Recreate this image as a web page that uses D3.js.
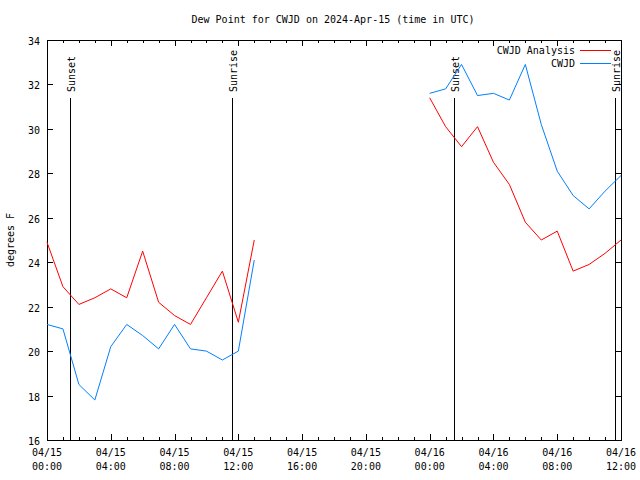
<!DOCTYPE html>
<html><head><meta charset="utf-8">
<script src="https://cdn.jsdelivr.net/npm/d3@7"></script>
<style>body{margin:0;background:#fff}svg{display:block}text{font-family:"DejaVu Sans Mono",monospace;font-size:10px;fill:#000}</style>
</head><body>
<script>
const title = "Dew Point for CWJD on 2024-Apr-15 (time in UTC)";
const yLabel = "degrees F";
const seriesNames = ["CWJD Analysis", "CWJD"];
const seriesColors = ["#ff0000", "#0080ff"];
// hours since 2024-04-15 00:00 UTC
const hoursA = [0,1,2,3,4,5,6,7,8,9,10,11,12,13];
const hoursB = [24,25,26,27,28,29,30,31,32,33,34,35,36];
const analysisA = [24.9,22.9,22.1,22.4,22.8,22.4,24.5,22.2,21.6,21.2,22.4,23.6,21.3,25.0];
const obsA      = [21.2,21.0,18.5,17.8,20.2,21.2,20.7,20.1,21.2,20.1,20.0,19.6,20.0,24.1];
const analysisB = [31.4,30.1,29.2,30.1,28.5,27.5,25.8,25.0,25.4,23.6,23.9,24.4,25.0];
const obsB      = [31.6,31.8,32.9,31.5,31.6,31.3,32.9,30.2,28.1,27.0,26.4,27.2,27.9];
const sunEvents = [{h:1.44,label:"Sunset"},{h:11.62,label:"Sunrise"},{h:25.55,label:"Sunset"},{h:35.6,label:"Sunrise"}];
const yTicks = [16,18,20,22,24,26,28,30,32,34];

const W=640,H=480, L=47,R=621,T=40,B=440;
const t0 = Date.UTC(2024,3,15,0,0);
const hd = h => new Date(t0 + h*3600e3);
const x = d3.scaleUtc().domain([hd(0), hd(36)]).range([L,R]);
const y = d3.scaleLinear().domain([16,34]).range([B,T]);

const svg = d3.select("body").append("svg").attr("width",W).attr("height",H);

svg.append("text").attr("x",(L+R)/2-1).attr("y",23).attr("text-anchor","middle").text(title);

// ticks
const g = svg.append("g").attr("stroke","#000").attr("stroke-width",1).attr("shape-rendering","crispEdges");
const minor = d3.range(0,37).map(hd);
minor.forEach(d=>{
  const major = ((d - t0)/3600e3) % 4 === 0;
  const len = major?6:3;
  const xx = Math.round(x(d))+0.5;
  g.append("line").attr("x1",xx).attr("x2",xx).attr("y1",B).attr("y2",B-len);
  g.append("line").attr("x1",xx).attr("x2",xx).attr("y1",T).attr("y2",T+len);
});
yTicks.forEach(v=>{
  const yy = Math.round(y(v))+0.5;
  g.append("line").attr("x1",L).attr("x2",L+6).attr("y1",yy).attr("y2",yy);
  g.append("line").attr("x1",R).attr("x2",R-6).attr("y1",yy).attr("y2",yy);
  svg.append("text").attr("x",40).attr("y",yy+4).attr("text-anchor","end").text(v);
});
const fmtD = d3.utcFormat("%m/%d"), fmtT = d3.utcFormat("%H:%M");
d3.range(0,37,4).map(hd).forEach(d=>{
  const t = svg.append("text").attr("text-anchor","middle");
  t.append("tspan").attr("x",x(d)).attr("y",456).text(fmtD(d));
  t.append("tspan").attr("x",x(d)).attr("y",470).text(fmtT(d));
});
svg.append("text").attr("transform","translate(14,240) rotate(-90)").attr("text-anchor","middle").text(yLabel);

// sun events
sunEvents.forEach(e=>{
  const xx = Math.round(x(hd(e.h)))+0.5;
  g.append("line").attr("x1",xx).attr("x2",xx).attr("y1",B).attr("y2",98);
  svg.append("text").attr("transform",`translate(${xx+4},92) rotate(-90)`).attr("text-anchor","start").text(e.label);
});

// frame
svg.append("rect").attr("x",L+0.5).attr("y",T+0.5).attr("width",R-L).attr("height",B-T)
  .attr("fill","none").attr("stroke","#000").attr("shape-rendering","crispEdges");

// series
const line = d3.line().x(d=>x(hd(d[0]))).y(d=>y(d[1]));
const segs = [
  [hoursA, analysisA, 0],[hoursB, analysisB, 0],
  [hoursA, obsA, 1],[hoursB, obsB, 1]
];
segs.forEach(([hs,vs,i])=>{
  svg.append("path").attr("d",line(hs.map((h,k)=>[h,vs[k]])))
    .attr("fill","none").attr("stroke",seriesColors[i]).attr("stroke-width",1);
});

// legend
seriesNames.forEach((n,i)=>{
  const yy = 50 + i*13;
  svg.append("text").attr("x",575).attr("y",yy+4).attr("text-anchor","end").text(n);
  svg.append("line").attr("x1",580).attr("x2",611).attr("y1",yy+0.5).attr("y2",yy+0.5)
    .attr("stroke",seriesColors[i]).attr("stroke-width",1);
});
</script>
</body></html>
